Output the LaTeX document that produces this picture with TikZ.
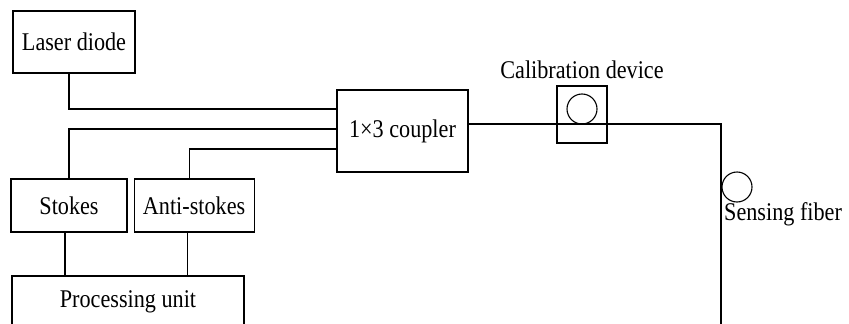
\documentclass[tikz,border=0pt]{standalone}
\usepackage{fontspec}
\setmainfont{Liberation Serif}[FakeStretch=0.87]
\usetikzlibrary{positioning}

\begin{document}
\begin{tikzpicture}[x=1pt, y=-1pt,
    box/.style={rectangle, draw, line width=1.1pt, inner sep=0pt,
                font=\fontsize{25.5}{28}\selectfont},
    lbl/.style={font=\fontsize{25.5}{28}\selectfont, inner sep=0pt},
    ln/.style={line width=1.1pt},
    ring/.style={circle, draw, line width=1.1pt, minimum size=30pt, inner sep=0pt}
]
\clip (0,0) rectangle (849,324);
\node[box, minimum width=122pt, minimum height=62pt] (laser) at (74,42) {Laser diode};
\node[box, minimum width=131pt, minimum height=82pt] (coupler) at (402.5,131) {1×3 coupler};
\node[box, minimum width=50pt, minimum height=57pt] (calib) at (582,114.5) {};
\node[ring] (calring) at (582,109) {};
\node[lbl, above=7pt of calib] (caltext) {Calibration device};
\node[box, minimum width=116pt, minimum height=53pt] (stokes) at (69,205.5) {Stokes};
\node[box, minimum width=120pt, minimum height=53pt, right=6pt of stokes] (anti) {Anti-stokes};
\node[box, minimum width=232pt, minimum height=52pt] (proc) at (128,302) {Processing unit};
\node[ring] (fring) at (737,187) {};
\node[lbl, anchor=west] (ftext) at (724,214) {Sensing fiber};
\coordinate (turn) at (721,124);
\coordinate (fend) at (721,330);

\draw[ln] ([xshift=-5pt]laser.south) |- ([yshift=22pt]coupler.west);
\draw[ln] ([yshift=2pt]coupler.west) -| (stokes.north);
\draw[ln] ([yshift=-18pt]coupler.west) -| ([xshift=-5pt]anti.north);
\draw[ln] ([xshift=-4pt]stokes.south) -- ([xshift=-4pt]stokes.south |- proc.north);
\draw[ln] ([xshift=-7pt]anti.south) -- ([xshift=-7pt]anti.south |- proc.north);
\draw[ln] ([yshift=7pt]coupler.east) -- (turn) -- (fend);
\end{tikzpicture}
\end{document}
